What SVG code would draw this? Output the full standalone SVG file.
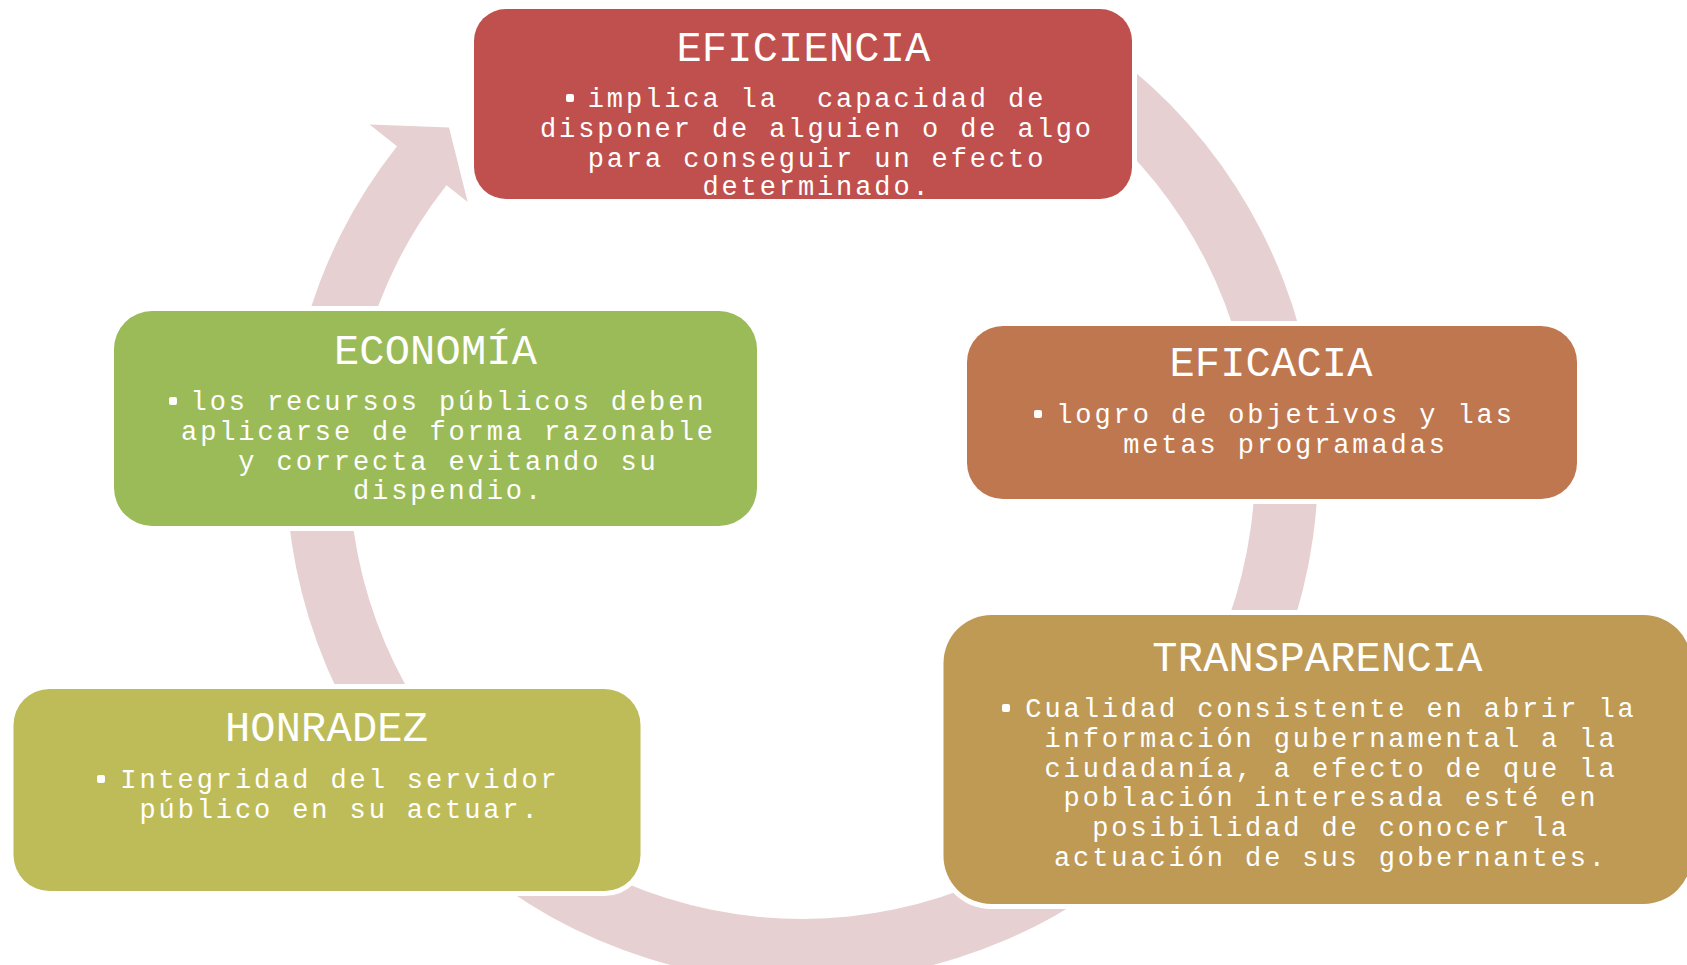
<svg xmlns="http://www.w3.org/2000/svg" width="1687" height="965" viewBox="0 0 1687 965">
<style>
.bg{fill:#ffffff}
.band{fill:#E7D0D1}
.box{stroke:#ffffff;stroke-width:10;paint-order:stroke}
.t{font-family:"Liberation Mono","DejaVu Sans Mono",monospace;fill:#ffffff;text-anchor:middle;font-size:42px;letter-spacing:0.2px}
.b{font-family:"Liberation Mono","DejaVu Sans Mono",monospace;fill:#ffffff;text-anchor:middle;font-size:27px;letter-spacing:2.9px}
.bul{fill:#ffffff}
</style>
<rect class="bg" x="0" y="0" width="1687" height="965"/>
<g id="connectors">
<path class="band" d="M1044.3,10.4 A516,516 0 1 1 397.0,146.2 L369.6,124.5 L449.0,127.6 L467.7,202.0 L446.5,185.2 A453,453 0 1 0 1014.7,66.0 Z"/>
</g>
<g id="node-eficiencia">
<rect class="box" x="474" y="9" width="658" height="190" rx="32" fill="#C0504D"/>
<text class="t" x="803.5" y="61">EFICIENCIA</text>
<rect class="bul" x="566" y="94" width="8" height="8" rx="2"/>
<text class="b" x="817" y="107" xml:space="preserve">implica la  capacidad de</text>
<text class="b" x="817" y="137">disponer de alguien o de algo</text>
<text class="b" x="817" y="166.5">para conseguir un efecto</text>
<text class="b" x="817" y="195">determinado.</text>
</g>
<g id="node-eficacia">
<rect class="box" x="967" y="326" width="610" height="173" rx="36" fill="#BF774F"/>
<text class="t" x="1271" y="376">EFICACIA</text>
<rect class="bul" x="1034" y="410" width="8" height="8" rx="2"/>
<text class="b" x="1285.5" y="423">logro de objetivos y las</text>
<text class="b" x="1285.5" y="453">metas programadas</text>
</g>
<g id="node-transparencia">
<rect class="box" x="943.5" y="615" width="748" height="289" rx="48" fill="#BE9A55"/>
<text class="t" x="1317.5" y="671">TRANSPARENCIA</text>
<rect class="bul" x="1002" y="704" width="8" height="8" rx="2"/>
<text class="b" x="1331" y="717">Cualidad consistente en abrir la</text>
<text class="b" x="1331" y="747">información gubernamental a la</text>
<text class="b" x="1331" y="776.5">ciudadanía, a efecto de que la</text>
<text class="b" x="1331" y="806">población interesada esté en</text>
<text class="b" x="1331" y="836">posibilidad de conocer la</text>
<text class="b" x="1331" y="866">actuación de sus gobernantes.</text>
</g>
<g id="node-honradez">
<rect class="box" x="13.5" y="689" width="627" height="202" rx="36" fill="#BDBC59"/>
<text class="t" x="326.5" y="741">HONRADEZ</text>
<rect class="bul" x="97" y="775" width="8" height="8" rx="2"/>
<text class="b" x="340" y="788">Integridad del servidor</text>
<text class="b" x="340" y="818">público en su actuar.</text>
</g>
<g id="node-economia">
<rect class="box" x="114" y="311" width="643" height="215" rx="38" fill="#9BBB59"/>
<text class="t" x="435.5" y="364">ECONOMÍA</text>
<rect class="bul" x="169" y="397" width="8" height="8" rx="2"/>
<text class="b" x="448.5" y="410">los recursos públicos deben</text>
<text class="b" x="448.5" y="440">aplicarse de forma razonable</text>
<text class="b" x="448.5" y="470">y correcta evitando su</text>
<text class="b" x="448.5" y="499">dispendio.</text>
</g>
</svg>
